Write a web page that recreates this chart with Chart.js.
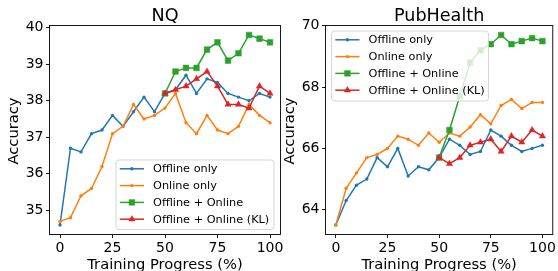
<!DOCTYPE html>
<html><head><meta charset="utf-8">
<script src="https://cdn.jsdelivr.net/npm/chart.js@4"></script>
<style>
html,body{margin:0;padding:0;background:#fff;}
#wrap{position:relative;width:558px;height:271px;overflow:hidden;background:#fff;}
canvas{position:absolute;left:0;top:0;}
</style>
</head><body>
<div id="wrap"><canvas id="c1" width="558" height="271"></canvas><canvas id="c2" width="558" height="271"></canvas></div>
<script>
// ---- data ----
const progress = [0,5,10,15,20,25,30,35,40,45,50,55,60,65,70,75,80,85,90,95,100];
const progressLate = [50,55,60,65,70,75,80,85,90,95,100];

const nqOffline    = [34.6,36.7,36.6,37.1,37.2,37.6,37.3,37.7,38.1,37.7,38.2,38.3,38.7,38.2,38.6,38.5,38.2,38.1,38.0,38.2,38.1];
const nqOnline     = [34.7,34.8,35.4,35.6,36.2,37.1,37.3,37.9,37.5,37.6,37.8,38.2,37.4,37.1,37.6,37.2,37.1,37.3,37.9,37.6,37.4];
const nqCombined   = [38.2,38.8,38.9,38.9,39.4,39.6,39.1,39.3,39.8,39.7,39.6];
const nqCombinedKL = [38.2,38.3,38.4,38.6,38.8,38.4,37.9,37.9,37.8,38.4,38.2];

const phOffline    = [63.5,64.3,64.8,65.0,65.7,65.4,66.0,65.1,65.4,65.3,65.7,66.3,66.1,65.8,65.9,66.6,66.4,66.1,65.9,66.0,66.1];
const phOnline     = [63.5,64.7,65.2,65.7,65.8,66.0,66.4,66.3,66.1,66.5,66.2,66.5,66.4,66.7,67.1,66.8,67.4,67.6,67.3,67.5,67.5];
const phCombined   = [65.7,66.6,67.7,68.8,69.2,69.4,69.7,69.4,69.5,69.6,69.5];
const phCombinedKL = [65.7,65.5,65.7,66.1,66.2,66.3,65.9,66.4,66.2,66.6,66.4];

const seriesNames = ['Offline only','Online only','Offline + Online','Offline + Online (KL)'];
const xTicks  = [0,25,50,75,100];
const nqYTicks = [35,36,37,38,39,40];
const phYTicks = [64,66,68,70];

// ---- styles ----
const FONT = '"DejaVu Sans", "Liberation Sans", sans-serif';
const colors = ['#1f77b4','#ff7f0e','#2ca02c','#d62728'];
const markers = [
  {pointStyle:'circle', radius:1.7, borderWidth:0},
  {pointStyle:'circle', radius:1.7, borderWidth:0},
  {pointStyle:'rect', radius:4.0, borderWidth:0.5},
  {pointStyle:'triangle', radius:3.6, borderWidth:0.5}
];

function mkDatasets(series) {
  return series.map((s, i) => ({
    label: seriesNames[i],
    data: s.xs.map((x, k) => ({x: x, y: s.ys[k]})),
    borderColor: colors[i],
    backgroundColor: colors[i],
    pointBackgroundColor: colors[i],
    pointBorderColor: colors[i],
    borderWidth: 1.5,
    tension: 0,
    pointStyle: markers[i].pointStyle,
    pointRadius: markers[i].radius,
    pointBorderWidth: markers[i].borderWidth,
    order: 4 - i
  }));
}

function drawMarker(ctx, m, color, x, y) {
  ctx.save();
  ctx.fillStyle = color; ctx.strokeStyle = color; ctx.lineWidth = m.borderWidth;
  Chart.helpers.drawPoint(ctx, {pointStyle: m.pointStyle, radius: m.radius, rotation: 0, borderWidth: m.borderWidth}, x, y);
  ctx.restore();
}

const decor = {
  id: 'decor',
  afterDraw(chart, args, o) {
    const ctx = chart.ctx, ca = chart.chartArea;
    ctx.save();
    // frame (spines)
    ctx.strokeStyle = '#000'; ctx.lineWidth = 0.9;
    ctx.strokeRect(ca.left, ca.top, ca.right - ca.left, ca.bottom - ca.top);
    // title
    ctx.fillStyle = '#000';
    ctx.textAlign = 'center'; ctx.textBaseline = 'alphabetic';
    ctx.font = '17.6px ' + FONT;
    ctx.fillText(o.title, (ca.left + ca.right) / 2, o.titleY);
    // x label
    ctx.font = '14.7px ' + FONT;
    ctx.fillText('Training Progress (%)', (ca.left + ca.right) / 2, o.xLabelY);
    // y label
    ctx.save();
    ctx.translate(o.yLabelX, (ca.top + ca.bottom) / 2 + 1);
    ctx.rotate(-Math.PI / 2);
    ctx.fillText('Accuracy', 0, 0);
    ctx.restore();
    // legend
    const L = o.legend;
    ctx.save();
    ctx.globalAlpha = 0.8;
    ctx.beginPath();
    if (ctx.roundRect) ctx.roundRect(L.x, L.y, L.w, L.h, 3); else ctx.rect(L.x, L.y, L.w, L.h);
    ctx.fillStyle = '#ffffff'; ctx.fill();
    ctx.strokeStyle = '#cccccc'; ctx.lineWidth = 1; ctx.stroke();
    ctx.restore();
    ctx.font = '11.3px ' + FONT;
    ctx.textAlign = 'left'; ctx.textBaseline = 'middle';
    for (let i = 0; i < seriesNames.length; i++) {
      const ry = L.y + 8.8 + i * 16.8;
      const hx0 = L.x + 3.8, hx1 = L.x + 28;
      ctx.strokeStyle = colors[i]; ctx.lineWidth = 1.5;
      ctx.beginPath(); ctx.moveTo(hx0, ry); ctx.lineTo(hx1, ry); ctx.stroke();
      drawMarker(ctx, markers[i], colors[i], (hx0 + hx1) / 2, ry);
      ctx.fillStyle = '#000';
      ctx.fillText(seriesNames[i], L.x + 37, ry + 0.5);
    }
    ctx.restore();
  }
};

function makeChart(id, cfg) {
  const tickFont = {family: FONT, size: 14};
  const gridCommon = {drawOnChartArea: false, drawTicks: true, tickLength: 3.5, tickColor: '#000', tickWidth: 0.9, color: '#000'};
  const chart = new Chart(document.getElementById(id), {
    type: 'line',
    data: {datasets: mkDatasets(cfg.series)},
    plugins: [decor],
    options: {
      responsive: false, animation: false, devicePixelRatio: 1,
      layout: {padding: {left: cfg.area.left - cfg.yWidth, right: 558 - cfg.area.right, top: cfg.area.top, bottom: 271 - cfg.area.bottom - 36.5}},
      plugins: {
        legend: {display: false}, title: {display: false}, tooltip: {enabled: false},
        decor: {title: cfg.title, titleY: 21, xLabelY: 269, yLabelX: cfg.yLabelX, legend: cfg.legend}
      },
      scales: {
        x: {
          type: 'linear', min: -5, max: 105,
          afterBuildTicks: s => { s.ticks = xTicks.map(v => ({value: v})); },
          afterFit: s => { s.height = 36.5; },
          grid: gridCommon, border: {display: false},
          ticks: {color: '#000', font: tickFont, padding: 2, maxRotation: 0, autoSkip: false}
        },
        y: {
          type: 'linear', min: cfg.yMin, max: cfg.yMax,
          afterBuildTicks: s => { s.ticks = cfg.yTicks.map(v => ({value: v})); },
          afterFit: s => { s.width = cfg.yWidth; },
          grid: gridCommon, border: {display: false},
          ticks: {color: '#000', font: tickFont, padding: 2.5, autoSkip: false}
        }
      }
    }
  });
  // nudge layout so the plot area lands where intended
  for (let k = 0; k < 3; k++) {
    const ca = chart.chartArea, p = chart.options.layout.padding;
    const dl = cfg.area.left - ca.left, dr = ca.right - cfg.area.right, dt = cfg.area.top - ca.top, db = ca.bottom - cfg.area.bottom;
    if (Math.abs(dl) + Math.abs(dr) + Math.abs(dt) + Math.abs(db) < 0.01) break;
    p.left += dl; p.right += dr; p.top += dt; p.bottom += db;
    chart.update();
  }
  return chart;
}

makeChart('c1', {
  title: 'NQ',
  series: [
    {xs: progress, ys: nqOffline},
    {xs: progress, ys: nqOnline},
    {xs: progressLate, ys: nqCombined},
    {xs: progressLate, ys: nqCombinedKL}
  ],
  yMin: 34.34, yMax: 40.06, yTicks: nqYTicks,
  area: {left: 49.5, right: 280.5, top: 25.5, bottom: 234.5},
  yWidth: 49.5, yLabelX: 18,
  legend: {x: 116, y: 160, w: 158, h: 69.5}
});

makeChart('c2', {
  title: 'PubHealth',
  series: [
    {xs: progress, ys: phOffline},
    {xs: progress, ys: phOnline},
    {xs: progressLate, ys: phCombined},
    {xs: progressLate, ys: phCombinedKL}
  ],
  yMin: 63.19, yMax: 70.01, yTicks: phYTicks,
  area: {left: 325.5, right: 555.5, top: 25.5, bottom: 234.5},
  yWidth: 45.5, yLabelX: 294,
  legend: {x: 331.5, y: 31, w: 157, h: 70}
});
</script>
</body></html>
